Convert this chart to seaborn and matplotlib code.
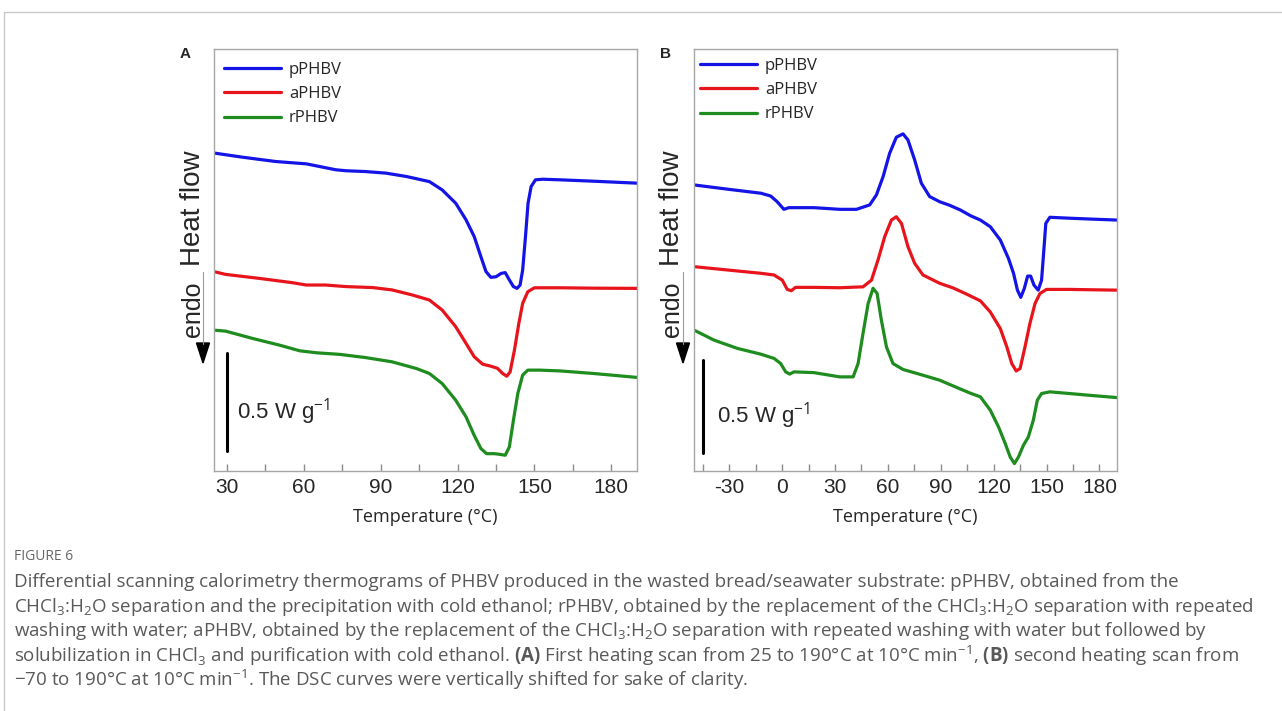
import numpy as np
import pandas as pd
import matplotlib
matplotlib.use("Agg")
import matplotlib.pyplot as plt
import seaborn as sns
from matplotlib.lines import Line2D
from matplotlib.patches import Polygon

# ==============================
# Data (heat flow, W/g, curves shifted vertically)
# ==============================

# Panel A - first heating scan
a_blue_t = [25, 36, 49, 61, 66, 72.5, 76.5, 84, 92, 100, 109, 114, 119.3, 123.3, 126.5, 129.1, 131.1, 133, 135, 137,
            138.6, 140.2, 141.8, 143.2, 144.4, 145.4, 146.5, 147.5, 148.7, 150.4, 153.2, 160, 173, 190]
a_blue_y = [1.614, 1.593, 1.571, 1.559, 1.546, 1.529, 1.524, 1.520, 1.512, 1.495, 1.469, 1.427, 1.359, 1.275, 1.190,
            1.088, 1.012, 0.983, 0.986, 1.003, 1.007, 0.970, 0.936, 0.927, 0.944, 1.020, 1.190, 1.359, 1.444, 1.478,
            1.481, 1.478, 1.471, 1.461]

a_red_t = [25, 29.5, 42.5, 55.5, 61, 68.5, 76.5, 87, 94.5, 102.5, 109, 114, 119.3, 123.3, 126.5, 129.8, 133, 135.6,
           137.6, 139.2, 140.5, 142.2, 143.9, 145.4, 147.4, 150, 160, 173, 190]
a_red_y = [1.012, 0.998, 0.978, 0.956, 0.944, 0.944, 0.936, 0.931, 0.919, 0.893, 0.868, 0.817, 0.732, 0.648, 0.580,
           0.542, 0.532, 0.521, 0.495, 0.481, 0.503, 0.614, 0.749, 0.851, 0.910, 0.930, 0.930, 0.928, 0.927]

a_green_t = [25, 29.5, 40, 50.5, 58.5, 65, 74, 84, 94.5, 104, 109, 114, 119.3, 123.3, 126.5, 129.1, 131.3, 134.3,
             136.3, 138.6, 140.2, 141.8, 143.5, 145.4, 147.4, 152, 160, 173, 190]
a_green_y = [0.715, 0.710, 0.673, 0.639, 0.610, 0.600, 0.592, 0.576, 0.554, 0.520, 0.495, 0.444, 0.359, 0.275, 0.181,
             0.114, 0.088, 0.088, 0.085, 0.080, 0.122, 0.258, 0.393, 0.487, 0.512, 0.512, 0.508, 0.495, 0.475]

# Panel B - second heating scan
b_blue_t = [-50, -31, -12, -6.5, -2.8, 1.0, 3.8, 18, 32.7, 42.2, 49.7, 53.5, 57.3, 61, 64.8, 68.6, 71.4, 75.2, 79,
            83.7, 89.4, 95, 101, 107, 112.5, 118.1, 123.8, 128.4, 131.3, 133.5, 135.4, 137.4, 139.3, 141, 142.9,
            145.3, 147.2, 148.5, 149.6, 151.9, 163, 176, 190]
b_blue_y = [1.547, 1.524, 1.502, 1.487, 1.456, 1.415, 1.424, 1.424, 1.415, 1.415, 1.439, 1.493, 1.592, 1.718, 1.805,
            1.823, 1.790, 1.682, 1.556, 1.484, 1.456, 1.437, 1.412, 1.380, 1.357, 1.321, 1.249, 1.150, 1.069, 0.978,
            0.939, 0.987, 1.054, 1.054, 1.005, 0.978, 1.032, 1.195, 1.339, 1.372, 1.367, 1.362, 1.357]

b_red_t = [-50, -31, -12, -4.6, 0.1, 2.9, 5.2, 7.6, 18, 32.7, 45.9, 50.7, 54.4, 58.2, 62, 64.8, 67.7, 71.4, 75.2,
           79.9, 89.4, 97, 105, 112.5, 118.1, 123.8, 127.5, 130.3, 132.8, 135, 137.8, 140.6, 143.5, 146.3, 150, 163,
           176, 190]
b_red_y = [1.105, 1.087, 1.069, 1.060, 1.032, 0.982, 0.975, 0.993, 0.993, 0.991, 0.996, 1.032, 1.141, 1.267, 1.357,
           1.375, 1.339, 1.213, 1.123, 1.060, 1.015, 0.990, 0.955, 0.920, 0.860, 0.770, 0.671, 0.581, 0.541, 0.554,
           0.671, 0.798, 0.906, 0.960, 0.982, 0.982, 0.980, 0.978]

b_green_t = [-50, -38.7, -25.4, -12.2, -4.6, -0.8, 2.0, 4.3, 6.7, 18, 32.7, 40.3, 43.1, 45.9, 48.8, 51.6, 53.9, 56.3,
             59.2, 62.9, 68.6, 79.9, 89.4, 100.5, 107, 112.5, 118.1, 122.8, 126.6, 129.4, 131.8, 134.1, 136.9, 139.7,
             142.5, 144.8, 147.2, 151.9, 163, 176, 190]
b_green_y = [0.762, 0.708, 0.663, 0.632, 0.609, 0.581, 0.536, 0.524, 0.536, 0.532, 0.509, 0.509, 0.581, 0.744, 0.906,
             0.988, 0.960, 0.816, 0.671, 0.581, 0.549, 0.518, 0.491, 0.446, 0.420, 0.401, 0.329, 0.238, 0.148, 0.076,
             0.040, 0.076, 0.139, 0.184, 0.274, 0.383, 0.419, 0.428, 0.419, 0.408, 0.397]

sample_names = ["pPHBV", "aPHBV", "rPHBV"]
major_ticks = [30, 60, 90, 120, 150, 180]
major_ticks_b = [-30, 0, 30, 60, 90, 120, 150, 180]

caption_lines = [
    "Differential scanning calorimetry thermograms of PHBV produced in the wasted bread/seawater substrate: pPHBV, obtained from the",
    "CHCl$_3$:H$_2$O separation and the precipitation with cold ethanol; rPHBV, obtained by the replacement of the CHCl$_3$:H$_2$O separation with repeated",
    "washing with water; aPHBV, obtained by the replacement of the CHCl$_3$:H$_2$O separation with repeated washing with water but followed by",
    "solubilization in CHCl$_3$ and purification with cold ethanol. $\\mathbf{(A)}$ First heating scan from 25 to 190°C at 10°C min$^{-1}$, $\\mathbf{(B)}$ second heating scan from",
    "−70 to 190°C at 10°C min$^{-1}$. The DSC curves were vertically shifted for sake of clarity.",
]

# ==============================
# Style
# ==============================

sns.set_theme(style="white")
plt.rcParams["font.family"] = ["Liberation Sans", "DejaVu Sans"]
plt.rcParams["mathtext.fontset"] = "custom"
plt.rcParams["mathtext.rm"] = "Open Sans"
plt.rcParams["mathtext.bf"] = "Open Sans:bold"
plt.rcParams["axes.unicode_minus"] = False

colors = ["#1414E6", "#E8141C", "#1E8C1E"]
W, H = 1282, 711


def fx(px):
    return px / W


def fy(py):
    return 1 - py / H


fig = plt.figure(figsize=(12.82, 7.11), dpi=100)

# outer frame
fig.add_artist(Line2D([fx(4), 1], [fy(12), fy(12)], color="#c8c8c8", lw=1))
fig.add_artist(Line2D([fx(4), fx(4)], [fy(12), 0], color="#c8c8c8", lw=1))

panels = [
    dict(left=214, right=637, xlim=(25, 190), ylim=(0, 2.142), ticks=major_ticks, minor=np.arange(30, 181, 15),
         series=[(a_blue_t, a_blue_y), (a_red_t, a_red_y), (a_green_t, a_green_y)],
         bar_x=30, bar_lab_y=0.14, letter="A", letter_x=180, hf_x=193, arrow_x=203, leg_x=224, leg_y=62),
    dict(left=694, right=1117, xlim=(-50, 190), ylim=(0, 2.282), ticks=major_ticks_b, minor=np.arange(-45, 181, 15),
         series=[(b_blue_t, b_blue_y), (b_red_t, b_red_y), (b_green_t, b_green_y)],
         bar_x=-45, bar_lab_y=0.13, letter="B", letter_x=660, hf_x=672, arrow_x=683, leg_x=700, leg_y=58),
]

for p in panels:
    ax = fig.add_axes([fx(p["left"]), fy(471), (p["right"] - p["left"]) / W, 422 / H])
    for (t, y), c, name in zip(p["series"], colors, sample_names):
        df = pd.DataFrame({"T": t, "HF": y})
        sns.lineplot(data=df, x="T", y="HF", color=c, lw=2.3, sort=False, ax=ax, label=name)

    ax.set_xlim(*p["xlim"])
    ax.set_ylim(*p["ylim"])
    ax.set_xticks(p["minor"])
    ax.set_xticklabels([str(v) if v in p["ticks"] else "" for v in p["minor"]])
    ax.set_yticks([])
    ax.tick_params(axis="x", direction="in", length=5, width=1, color="#8c8c8c", labelsize=15, pad=5,
                   bottom=True, top=False)
    for s in ax.spines.values():
        s.set_color("#a6a6a6")
        s.set_linewidth(1)
    ax.set_xlabel("Temperature (°C)", fontsize=13, family="Open Sans", labelpad=8)
    ax.set_ylabel("")

    # scale bar 0.5 W/g
    ax.plot([p["bar_x"], p["bar_x"]], [0.10, 0.60], color="black", lw=2.2)
    ax.text(0.055, p["bar_lab_y"], "0.5 W g$^{-1}$", transform=ax.transAxes, fontsize=16, va="center", ha="left")

    ax.legend(loc="upper left",
              bbox_to_anchor=((p["leg_x"] - p["left"]) / (p["right"] - p["left"]), 1 - (p["leg_y"] - 49) / 422),
              frameon=False, handlelength=3.4, handletextpad=0.5, labelspacing=0.49,
              borderpad=0, borderaxespad=0, prop={"family": "Open Sans", "size": 12})

    # panel letter, y label and endo arrow
    fig.text(fx(p["letter_x"]), fy(54), p["letter"], fontsize=11, fontweight="bold", ha="left", va="center")
    fig.text(fx(p["hf_x"]), fy(208), "Heat flow", rotation=90, fontsize=20, ha="center", va="center")
    fig.text(fx(p["hf_x"]), fy(309), "endo", rotation=90, fontsize=18, ha="center", va="center")
    ax_ = p["arrow_x"]
    fig.add_artist(Line2D([fx(ax_), fx(ax_)], [fy(272), fy(344)], color="#9a9a9a", lw=0.8))
    fig.add_artist(Polygon([[fx(ax_ - 6.5), fy(343)], [fx(ax_ + 6.5), fy(343)], [fx(ax_), fy(363)]],
                           closed=True, color="black"))

# ==============================
# Caption
# ==============================

fig.text(fx(14), fy(557), "FIGURE 6", fontsize=10, color="#666666", family="Open Sans", va="center")
for i, line in enumerate(caption_lines):
    fig.text(fx(14), fy(582 + i * 24.5), line, fontsize=13.5, color="#595959", family="Open Sans", va="center")

fig.savefig("out.png", dpi=100)
